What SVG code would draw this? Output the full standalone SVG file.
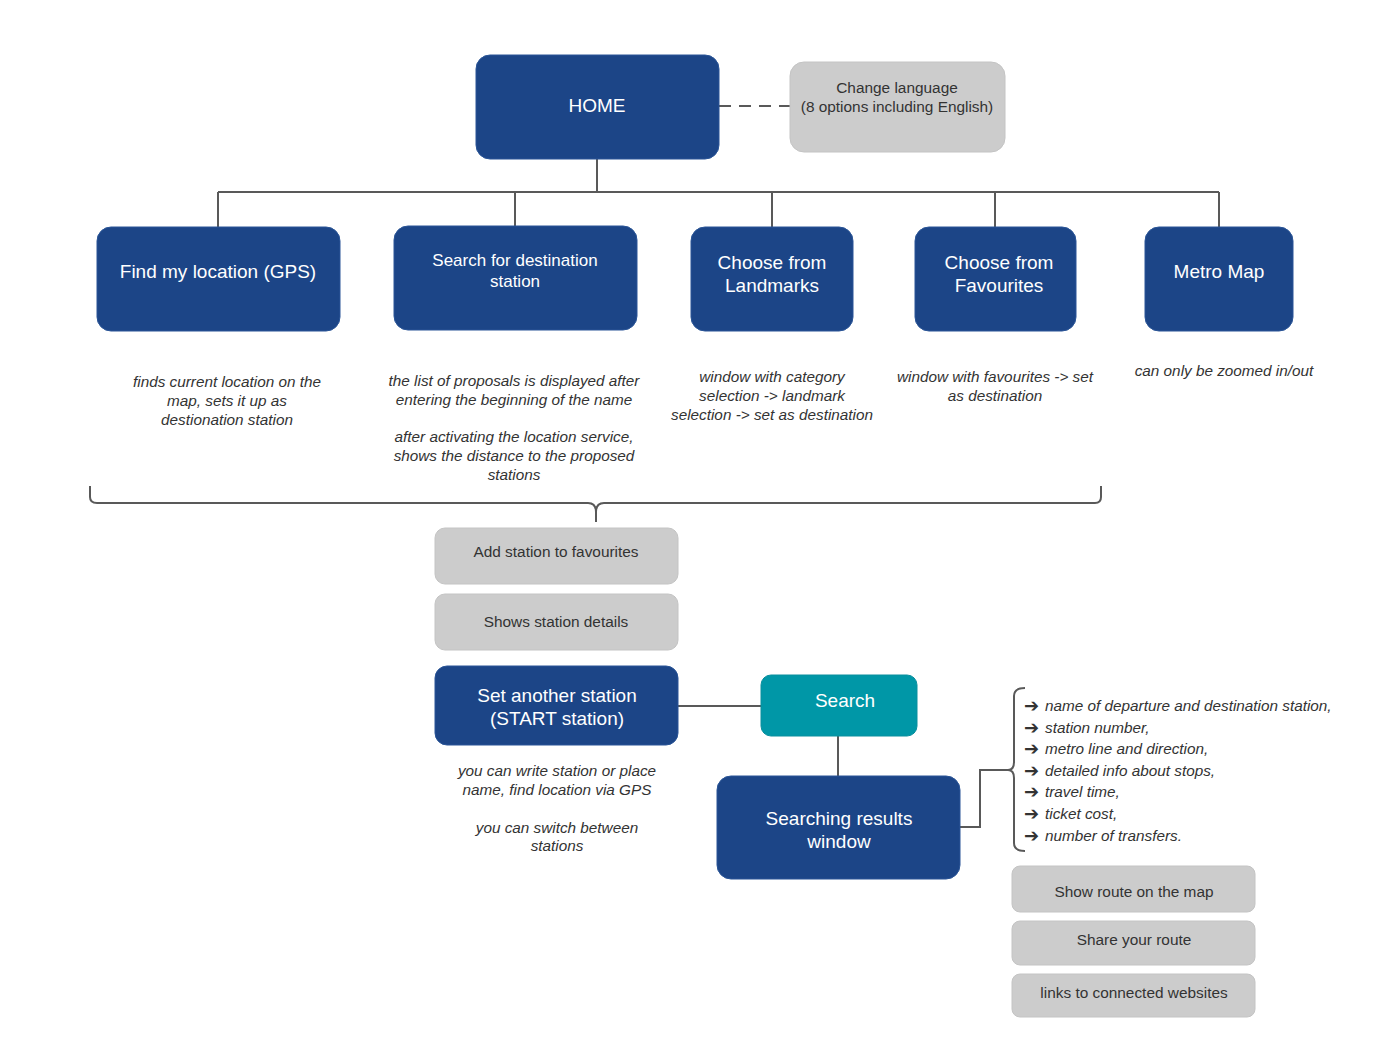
<svg xmlns="http://www.w3.org/2000/svg" width="1400" height="1061" viewBox="0 0 1400 1061">
<style>
text{font-family:"Liberation Sans",Arial,sans-serif;text-anchor:middle}
.blue{fill:#1c4587;stroke:#2a5597;stroke-width:1}
.gray{fill:#cccccc;stroke:#c4c4c4;stroke-width:1}
.teal{fill:#0097a7;stroke:#0a8f9e;stroke-width:1}
.wt{fill:#ffffff;font-size:19px}
.wt16{fill:#ffffff;font-size:17px}
.gt{fill:#333333;font-size:15.4px}
.note{fill:#333333;font-size:15.3px;font-style:italic}
.li{fill:#333333;font-size:15.3px;font-style:italic;text-anchor:start}
.ar{fill:#333333;font-size:18px;font-family:"DejaVu Sans",sans-serif;text-anchor:start}
.con{fill:none;stroke:#595959;stroke-width:2}
</style>
<rect width="1400" height="1061" fill="#ffffff"/>
<g id="connectors">
<line class="con" x1="719" y1="106" x2="790" y2="106" stroke-dasharray="12,8"/>
<path class="con" d="M597,159 V192 M218,192 H1219 M218,192 V227 M515,192 V226 M772,192 V227 M995,192 V227 M1219,192 V227"/>
<path class="con" d="M90,486 V497 Q90,503 97,503 H588 Q596,503 596,512 V522 M596,512 Q596,503 604,503 H1095 Q1101,503 1101,497 V486"/>
<path class="con" d="M678,706 H761"/>
<path class="con" d="M838,736 V776"/>
<path class="con" d="M960,827 H980 V770 H1010"/>
<path class="con" d="M1025,688 Q1014,688 1014,696 V762 Q1014,770 1008,770 Q1014,770 1014,778 V843 Q1014,851 1025,851"/>
</g>
<g id="home"><rect class="blue" x="476" y="55" width="243" height="104" rx="14"/><text class="wt" x="597" y="112">HOME</text></g>
<g id="lang"><rect class="gray" x="790" y="62" width="215" height="90" rx="14"/><text class="gt" x="897" y="93">Change language</text><text class="gt" x="897" y="112">(8 options including English)</text></g>
<g id="findloc"><rect class="blue" x="97" y="227" width="243" height="104" rx="14"/><text class="wt" x="218" y="278">Find my location (GPS)</text></g>
<g id="searchdest"><rect class="blue" x="394" y="226" width="243" height="104" rx="14"/><text class="wt16" x="515" y="266">Search for destination</text><text class="wt16" x="515" y="287">station</text></g>
<g id="landmarks"><rect class="blue" x="691" y="227" width="162" height="104" rx="14"/><text class="wt" x="772" y="269">Choose from</text><text class="wt" x="772" y="292">Landmarks</text></g>
<g id="favourites"><rect class="blue" x="915" y="227" width="161" height="104" rx="14"/><text class="wt" x="999" y="269">Choose from</text><text class="wt" x="999" y="292">Favourites</text></g>
<g id="metromap"><rect class="blue" x="1145" y="227" width="148" height="104" rx="14"/><text class="wt" x="1219" y="278">Metro Map</text></g>
<g id="notes1">
<text class="note" x="227" y="387">finds current location on the</text>
<text class="note" x="227" y="406">map, sets it up as</text>
<text class="note" x="227" y="425">destionation station</text>
</g>
<g id="notes2">
<text class="note" x="514" y="386">the list of proposals is displayed after</text>
<text class="note" x="514" y="405">entering the beginning of the name</text>
<text class="note" x="514" y="442">after activating the location service,</text>
<text class="note" x="514" y="461">shows the distance to the proposed</text>
<text class="note" x="514" y="480">stations</text>
</g>
<g id="notes3">
<text class="note" x="772" y="382">window with category</text>
<text class="note" x="772" y="401">selection -&gt; landmark</text>
<text class="note" x="772" y="420">selection -&gt; set as destination</text>
</g>
<g id="notes4">
<text class="note" x="995" y="382">window with favourites -&gt; set</text>
<text class="note" x="995" y="401">as destination</text>
</g>
<g id="notes5"><text class="note" x="1224" y="376">can only be zoomed in/out</text></g>
<g id="addfav"><rect class="gray" x="435" y="528" width="243" height="56" rx="10"/><text class="gt" x="556" y="557">Add station to favourites</text></g>
<g id="details"><rect class="gray" x="435" y="594" width="243" height="56" rx="10"/><text class="gt" x="556" y="627">Shows station details</text></g>
<g id="setanother"><rect class="blue" x="435" y="666" width="243" height="79" rx="12"/><text class="wt" x="557" y="702">Set another station</text><text class="wt" x="557" y="725">(START station)</text></g>
<g id="notes6">
<text class="note" x="557" y="776">you can write station or place</text>
<text class="note" x="557" y="795">name, find location via GPS</text>
<text class="note" x="557" y="833">you can switch between</text>
<text class="note" x="557" y="851">stations</text>
</g>
<g id="search"><rect class="teal" x="761" y="675" width="156" height="61" rx="10"/><text class="wt" x="845" y="707">Search</text></g>
<g id="results"><rect class="blue" x="717" y="776" width="243" height="103" rx="14"/><text class="wt" x="839" y="825">Searching results</text><text class="wt" x="839" y="848">window</text></g>
<g id="list">
<text class="ar" x="1024" y="712">➔</text><text class="li" x="1045" y="711">name of departure and destination station,</text>
<text class="ar" x="1024" y="734">➔</text><text class="li" x="1045" y="733">station number,</text>
<text class="ar" x="1024" y="755">➔</text><text class="li" x="1045" y="754">metro line and direction,</text>
<text class="ar" x="1024" y="777">➔</text><text class="li" x="1045" y="776">detailed info about stops,</text>
<text class="ar" x="1024" y="798">➔</text><text class="li" x="1045" y="797">travel time,</text>
<text class="ar" x="1024" y="820">➔</text><text class="li" x="1045" y="819">ticket cost,</text>
<text class="ar" x="1024" y="842">➔</text><text class="li" x="1045" y="841">number of transfers.</text>
</g>
<g id="showroute"><rect class="gray" x="1012" y="866" width="243" height="46" rx="8"/><text class="gt" x="1134" y="897">Show route on the map</text></g>
<g id="share"><rect class="gray" x="1012" y="921" width="243" height="44" rx="8"/><text class="gt" x="1134" y="945">Share your route</text></g>
<g id="links"><rect class="gray" x="1012" y="974" width="243" height="43" rx="8"/><text class="gt" x="1134" y="998">links to connected websites</text></g>
</svg>
